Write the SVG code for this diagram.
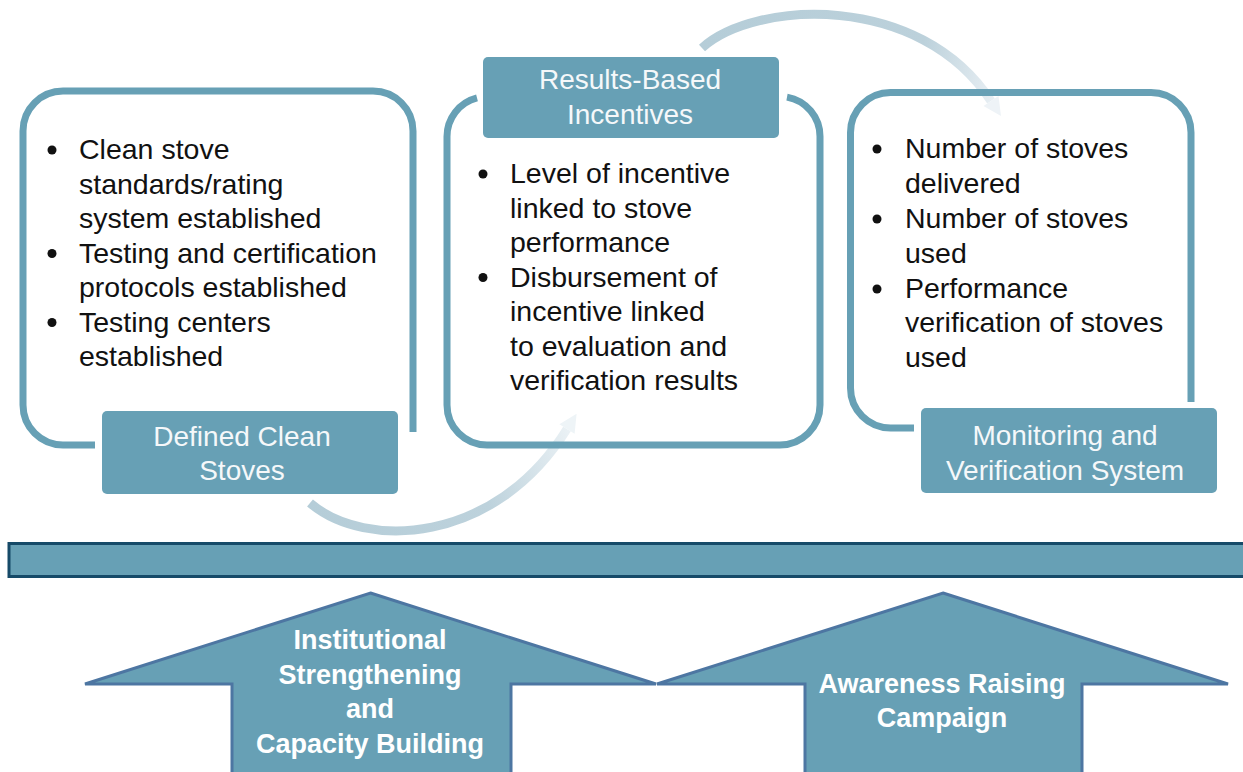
<svg xmlns="http://www.w3.org/2000/svg" width="1243" height="772" viewBox="0 0 1243 772">
<style>
.frame{fill:none;stroke:#67a0b5;stroke-width:7;stroke-linecap:butt}
.lbl{fill:#67a0b5}
.lt{font-family:"Liberation Sans",Arial,sans-serif;font-size:28px;fill:#f5f8fa;text-anchor:middle}
.bt{font-family:"Liberation Sans",Arial,sans-serif;font-size:28.5px;fill:#111}
.bul{fill:#111}
.big{fill:#67a0b5;stroke:#4d76a2;stroke-width:3;stroke-linejoin:miter}
.bigt{font-family:"Liberation Sans",Arial,sans-serif;font-size:27px;font-weight:bold;fill:#fff;text-anchor:middle}
</style>
<defs>
<linearGradient id="g1" gradientUnits="userSpaceOnUse" x1="310" y1="503" x2="577" y2="414">
<stop offset="0" stop-color="#b5cdd8"/>
<stop offset="0.6" stop-color="#bdd2dc"/>
<stop offset="1" stop-color="#f0f5f8"/>
</linearGradient>
<linearGradient id="g2" gradientUnits="userSpaceOnUse" x1="702" y1="48" x2="1001" y2="116">
<stop offset="0" stop-color="#b5cdd8"/>
<stop offset="0.7" stop-color="#bcd1db"/>
<stop offset="1" stop-color="#eef3f7"/>
</linearGradient>
</defs>
<rect width="1243" height="772" fill="#fff"/>

<g id="connectors">
<path d="M310 503 C365 550 495 545 567 429" fill="none" stroke="url(#g1)" stroke-width="9"/>
<polygon points="576.6,413.8 574.6,433.8 559.4,424.2" fill="#eef4f7"/>
<path d="M702 48 C755 0 920 -8 991 101" fill="none" stroke="url(#g2)" stroke-width="9"/>
<polygon points="1001,116 998.5,96 983.5,106" fill="#eef3f7"/>
</g>

<g id="defined-clean-stoves">
<path class="frame" d="M95 445 H63 A40 40 0 0 1 23 405 V131 A40 40 0 0 1 63 91 H373 A40 40 0 0 1 413 131 V432"/>
<circle class="bul" cx="52" cy="150" r="4.5"/>
<circle class="bul" cx="52" cy="253.5" r="4.5"/>
<circle class="bul" cx="52" cy="322.5" r="4.5"/>
<text class="bt" x="79" y="159">Clean stove</text>
<text class="bt" x="79" y="193.5">standards/rating</text>
<text class="bt" x="79" y="228">system established</text>
<text class="bt" x="79" y="262.5">Testing and certification</text>
<text class="bt" x="79" y="297">protocols established</text>
<text class="bt" x="79" y="331.5">Testing centers</text>
<text class="bt" x="79" y="366">established</text>
<rect class="lbl" x="102" y="411" width="296" height="83" rx="5"/>
<text class="lt" x="242" y="446">Defined Clean</text>
<text class="lt" x="242" y="480">Stoves</text>
</g>

<g id="results-based-incentives">
<path class="frame" d="M477 97.8 A40 40 0 0 0 447 136.5 V405 A40 40 0 0 0 487 445 H780 A40 40 0 0 0 820 405 V136.5 A40 40 0 0 0 787 97.1"/>
<circle class="bul" cx="483" cy="174" r="4.5"/>
<circle class="bul" cx="483" cy="277.5" r="4.5"/>
<text class="bt" x="510" y="183">Level of incentive</text>
<text class="bt" x="510" y="217.5">linked to stove</text>
<text class="bt" x="510" y="252">performance</text>
<text class="bt" x="510" y="286.5">Disbursement of</text>
<text class="bt" x="510" y="321">incentive linked</text>
<text class="bt" x="510" y="355.5">to evaluation and</text>
<text class="bt" x="510" y="390">verification results</text>
<rect class="lbl" x="483" y="57" width="296" height="81" rx="5"/>
<text class="lt" x="630" y="89">Results-Based</text>
<text class="lt" x="630" y="124">Incentives</text>
</g>

<g id="monitoring-verification">
<path class="frame" d="M914 428 H890.5 A40 40 0 0 1 850.5 388 V132.5 A40 40 0 0 1 890.5 92.5 H1151 A40 40 0 0 1 1191 132.5 V402"/>
<circle class="bul" cx="877" cy="149" r="4.5"/>
<circle class="bul" cx="877" cy="219" r="4.5"/>
<circle class="bul" cx="877" cy="289" r="4.5"/>
<text class="bt" x="905" y="158">Number of stoves</text>
<text class="bt" x="905" y="193">delivered</text>
<text class="bt" x="905" y="228">Number of stoves</text>
<text class="bt" x="905" y="262.5">used</text>
<text class="bt" x="905" y="298">Performance</text>
<text class="bt" x="905" y="332">verification of stoves</text>
<text class="bt" x="905" y="367">used</text>
<rect class="lbl" x="921" y="408" width="296" height="85" rx="5"/>
<text class="lt" x="1065" y="445">Monitoring and</text>
<text class="lt" x="1065" y="480">Verification System</text>
</g>

<g id="foundation-bar">
<rect x="9" y="543.5" width="1240" height="33" fill="#67a0b5" stroke="#164a68" stroke-width="3"/>
</g>

<g id="institutional-strengthening">
<polygon class="big" points="370.5,593 656,684 511,684 511,775 232,775 232,684 85,684"/>
<text class="bigt" x="370" y="649">Institutional</text>
<text class="bigt" x="370" y="684">Strengthening</text>
<text class="bigt" x="370" y="718">and</text>
<text class="bigt" x="370" y="753">Capacity Building</text>
</g>

<g id="awareness-raising">
<polygon class="big" points="943,593 1228,684 1082,684 1082,775 805,775 805,684 657,684"/>
<text class="bigt" x="942" y="693">Awareness Raising</text>
<text class="bigt" x="942" y="727">Campaign</text>
</g>
</svg>
